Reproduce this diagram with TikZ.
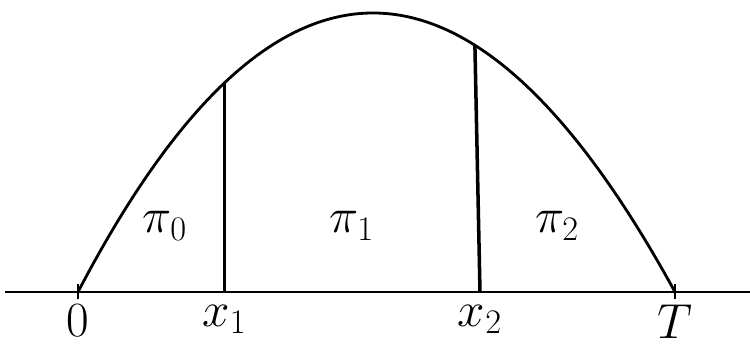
\RequirePackage{fix-cm}
\documentclass[tikz,border=0pt]{standalone}
\usepackage{amsmath,amssymb}
\usepackage{tikz}
\usetikzlibrary{calc,positioning}

\tikzset{
  curveline/.style={line width=1.6pt},
  cutline/.style={line width=2pt},
  ticklab/.style={anchor=north,inner sep=0pt},
  arealab/.style={anchor=base,inner sep=0pt}
}

\begin{document}
\begin{tikzpicture}[font=\fontsize{28}{31}\selectfont]
  \useasboundingbox (0,0) rectangle (15,6.94);
  % axis and end points
  \coordinate (L) at (0.1,1.1);
  \coordinate (R) at (15,1.1);
  \coordinate (O) at (1.56,1.1);
  \coordinate (T) at (13.5,1.1);
  \draw[curveline] (L) -- (R);
  \foreach \p in {O,T}
    \draw[curveline] ($(\p)+(0,0.16)$) -- ($(\p)+(0,-0.14)$);
  % the curve
  \draw[curveline] (O) .. controls (5.447,8.54) and (9.427,8.54) .. (T)
    coordinate[pos=0.25] (top1) coordinate[pos=0.67] (top2);
  \coordinate (x1) at (top1 |- L);
  \coordinate (x2) at (9.6,1.1);
  \draw[cutline] (x1) -- (top1);
  \draw[cutline] (x2) -- (top2);
  % labels
  \foreach \p/\lab in {O/{$0$}, x1/{$x_1$}, x2/{$x_2$}, T/{$T$}}
    \node[ticklab] (lab\p) at ($(\p)+(0,-0.25)$) {\lab};
  \node[arealab] (pi0) at (3.3,2.28) {$\pi_0$};
  \node[arealab] (pi1) at (7.04,2.28) {$\pi_1$};
  \node[arealab] (pi2) at (11.14,2.28) {$\pi_2$};
\end{tikzpicture}
\end{document}
